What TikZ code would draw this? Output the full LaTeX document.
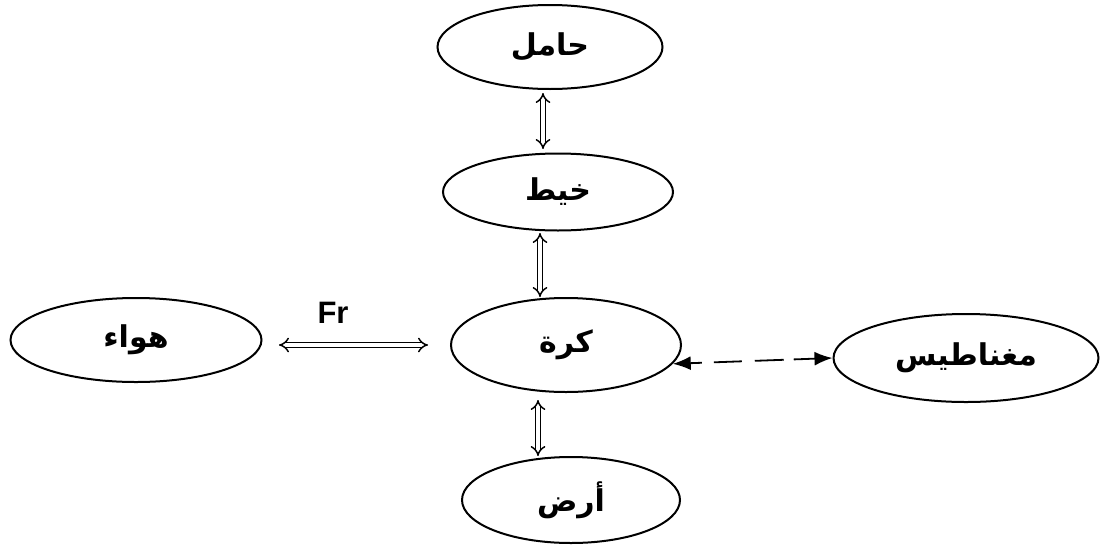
\documentclass[tikz,border=0pt]{standalone}
\usepackage{fontspec}
\setmainfont{Liberation Sans}
\newfontfamily\arabicfont[Script=Arabic]{DejaVu Sans}
\TeXXeTstate=1
\usetikzlibrary{shapes.geometric,arrows.meta}
\tikzset{
  oval/.style={draw, ellipse, line width=2pt, inner sep=0pt, font=\arabicfont\bfseries\fontsize{30}{34}\selectfont},
  dbl/.style={double, line width=1.5pt, double distance=3.5pt, {Implies[length=9pt,width=16pt]}-{Implies[length=9pt,width=16pt]}},
  dsh/.style={line width=1.8pt, {Latex[length=18pt,width=14pt]}-{Latex[length=18pt,width=14pt]},
    dash pattern=on 12pt off 12pt on 28pt off 13pt on 29pt off 10pt on 40pt off 1pt},
  lbl/.style={font=\bfseries\fontsize{31}{34}\selectfont}
}
\begin{document}
\begin{tikzpicture}[x=1pt,y=-1pt]
\useasboundingbox (0,0) rectangle (1107,544);
\node[oval, minimum width=225pt, minimum height=84pt] (hamel) at (550,47) {\beginR حامل\endR};
\node[oval, minimum width=230pt, minimum height=77pt] (khait) at (558,192) {\beginR خيط\endR};
\node[oval, minimum width=230pt, minimum height=94pt] (kura) at (566,345) {\beginR كرة\endR};
\node[oval, minimum width=251pt, minimum height=84pt] (hawa) at (136,340) {\beginR هواء\endR};
\node[oval, minimum width=265pt, minimum height=88pt] (magn) at (966,358) {\beginR مغناطيس\endR};
\node[oval, minimum width=218pt, minimum height=86pt] (ard) at (571,500) {\beginR أرض\endR};
\node[lbl] (fr) at (333,313) {Fr};
\draw[dbl] ([shift={(-7,3)}]hamel.south) -- ([shift={(-15,-3.5)}]khait.north);
\draw[dbl] ([shift={(-18,1.5)}]khait.south) -- ([shift={(-26,0)}]kura.north);
\draw[dbl] ([shift={(-28,7)}]kura.south) -- ([shift={(-33,0)}]ard.north);
\draw[dbl] ([shift={(16.5,5)}]hawa.east) -- ([shift={(-22,0)}]kura.west);
\draw[dsh] (kura.-10) -- (magn.west);
\end{tikzpicture}
\end{document}
